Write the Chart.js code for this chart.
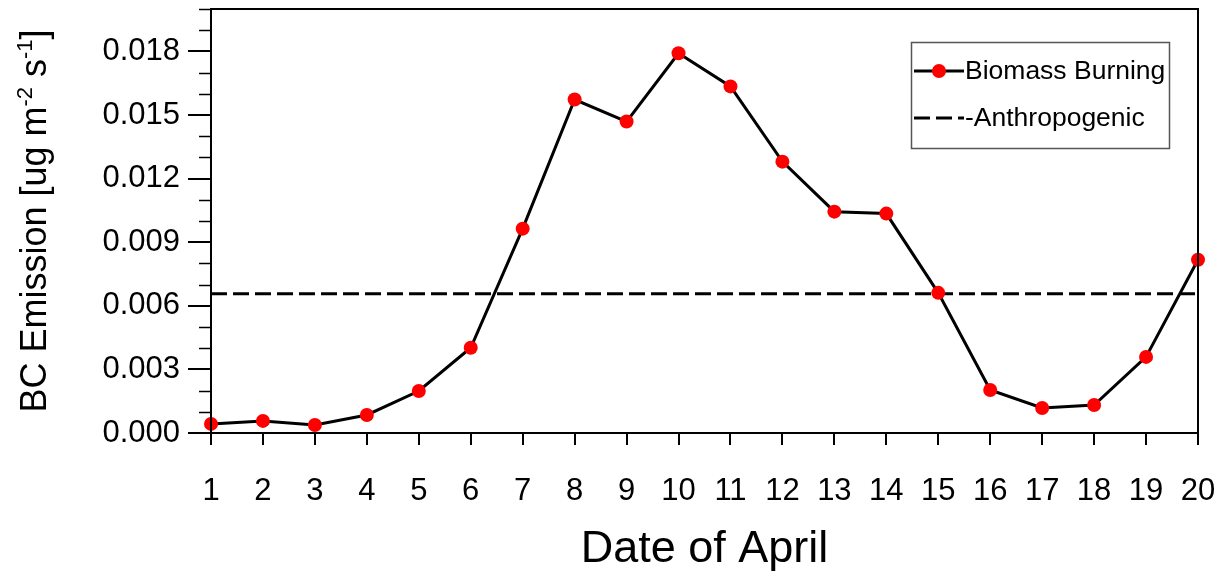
<!DOCTYPE html>
<html>
<head>
<meta charset="utf-8">
<script src="https://cdn.jsdelivr.net/npm/chart.js@4/dist/chart.umd.min.js"></script>
<style>
  html, body { margin: 0; padding: 0; background: #fff; }
  #wrap { width: 1229px; height: 574px; position: relative; }
</style>
</head>
<body>
<div id="wrap"><canvas id="chart"></canvas></div>
<script>
// days of April on the x axis
const days = ['1','2','3','4','5','6','7','8','9','10','11','12','13','14','15','16','17','18','19','20'];

// biomass burning BC emission
const biomass = [0.00043, 0.00057, 0.00038, 0.00085, 0.00198, 0.00402, 0.00964, 0.01573, 0.01469, 0.01791,
                 0.01635, 0.01280, 0.01044, 0.01035, 0.00661, 0.00203, 0.00118, 0.00132, 0.00359, 0.00817];

// anthropogenic level (flat)
const anthropogenic = 0.00657;

const yMin = 0, yMax = 0.020, yStep = 0.003, yMinorStep = 0.001;

const FONT = "'Liberation Sans', Arial, Helvetica, sans-serif";

// full box around the plot + minor ticks on the left axis
const framePlugin = {
    id: 'frame',
    afterDatasetsDraw(chart) {
        const {ctx, chartArea: a, scales} = chart;
        ctx.save();
        ctx.strokeStyle = '#000';
        ctx.lineWidth = 2;
        ctx.strokeRect(a.left, a.top, a.right - a.left, a.bottom - a.top);
        // minor ticks
        ctx.lineWidth = 1.5;
        ctx.beginPath();
        for (let k = 0; k <= Math.round((yMax - yMin) / yMinorStep); k++) {
            if (k % 3 === 0) continue;
            const y = Math.round(scales.y.getPixelForValue(yMin + k * yMinorStep)) + 0.5;
            ctx.moveTo(a.left - 12, y);
            ctx.lineTo(a.left, y);
        }
        ctx.stroke();
        ctx.restore();
    }
};

// y title with superscripts
const yTitlePlugin = {
    id: 'ytitle',
    afterDraw(chart) {
        const {ctx, chartArea: a} = chart;
        const size = 36, sup = 22;
        const parts = [
            ['BC Emission [ug m', size, 0],
            ['-2', sup, -14],
            [' s', size, 0],
            ['-1', sup, -14],
            [']', size, 0]
        ];
        ctx.save();
        let total = 0;
        parts.forEach(p => { ctx.font = p[1] + 'px ' + FONT; total += ctx.measureText(p[0]).width; });
        ctx.translate(46, (a.top + a.bottom) / 2);
        ctx.rotate(-Math.PI / 2);
        ctx.fillStyle = '#000';
        ctx.textBaseline = 'alphabetic';
        ctx.textAlign = 'left';
        let x = -total / 2;
        parts.forEach(p => {
            ctx.font = p[1] + 'px ' + FONT;
            ctx.fillText(p[0], x, p[2]);
            x += ctx.measureText(p[0]).width;
        });
        ctx.restore();
    }
};

// boxed legend in the upper right
const legendPlugin = {
    id: 'boxlegend',
    afterDraw(chart) {
        const {ctx} = chart;
        const x0 = 911, y0 = 42, w = 258, h = 106;
        ctx.save();
        ctx.strokeStyle = '#555';
        ctx.lineWidth = 1.5;
        ctx.strokeRect(x0 + 0.5, y0 + 0.5, w, h);

        const ds = chart.data.datasets;
        const rows = [71, 118];
        ctx.font = '26.5px ' + FONT;
        ctx.textBaseline = 'middle';
        ctx.fillStyle = '#000';
        ds.forEach((d, i) => {
            const y = rows[i];
            ctx.strokeStyle = d.borderColor;
            ctx.lineWidth = d.borderWidth;
            ctx.setLineDash(d.borderDash || []);
            ctx.beginPath();
            ctx.moveTo(914, y);
            ctx.lineTo(964, y);
            ctx.stroke();
            ctx.setLineDash([]);
            if (d.pointRadius > 0) {
                ctx.fillStyle = d.pointBackgroundColor;
                ctx.beginPath();
                ctx.arc(939, y, d.pointRadius, 0, Math.PI * 2);
                ctx.fill();
            }
            ctx.fillStyle = '#000';
            ctx.fillText(d.label, 965, y + 1);
        });
        ctx.restore();
    }
};

new Chart(document.getElementById('chart'), {
    type: 'line',
    data: {
        labels: days,
        datasets: [{
            label: 'Biomass Burning',
            data: biomass,
            borderColor: '#000',
            borderWidth: 3,
            pointRadius: 7,
            pointBackgroundColor: '#ff0000',
            pointBorderWidth: 0,
            tension: 0,
            clip: false
        }, {
            label: '-Anthropogenic',
            data: [{x: days[0], y: anthropogenic}, {x: days[days.length - 1], y: anthropogenic}],
            borderColor: '#000',
            borderWidth: 3,
            borderDash: [16, 6],
            pointRadius: 0,
            clip: false
        }]
    },
    options: {
        responsive: true,
        maintainAspectRatio: false,
        animation: false,
        layout: { padding: { left: 0, right: 31, top: 9, bottom: 0 } },
        plugins: {
            legend: { display: false },
            tooltip: { enabled: false }
        },
        scales: {
            x: {
                type: 'category',
                offset: false,
                afterFit: s => { s.height = 141; s.paddingLeft = 0; s.paddingRight = 0; },
                border: { display: false },
                grid: { drawOnChartArea: false, drawTicks: true, tickLength: 12, color: '#000', lineWidth: 2 },
                ticks: { color: '#000', padding: 28, maxRotation: 0, autoSkip: false,
                         font: { family: FONT, size: 31 } },
                title: { display: true, text: 'Date of April', color: '#000',
                         font: { family: FONT, size: 45, lineHeight: 1.1 }, padding: { top: 0, bottom: 0 } }
            },
            y: {
                min: yMin,
                max: yMax,
                afterFit: s => { s.width = 211; s.paddingTop = 0; s.paddingBottom = 0; },
                border: { display: false },
                grid: { drawOnChartArea: false, drawTicks: true, tickLength: 23, color: '#000', lineWidth: 2 },
                ticks: { stepSize: yStep, includeBounds: false, color: '#000', padding: 8,
                         font: { family: FONT, size: 31 },
                         callback: v => v.toFixed(3) }
            }
        }
    },
    plugins: [framePlugin, yTitlePlugin, legendPlugin]
});
</script>
</body>
</html>
